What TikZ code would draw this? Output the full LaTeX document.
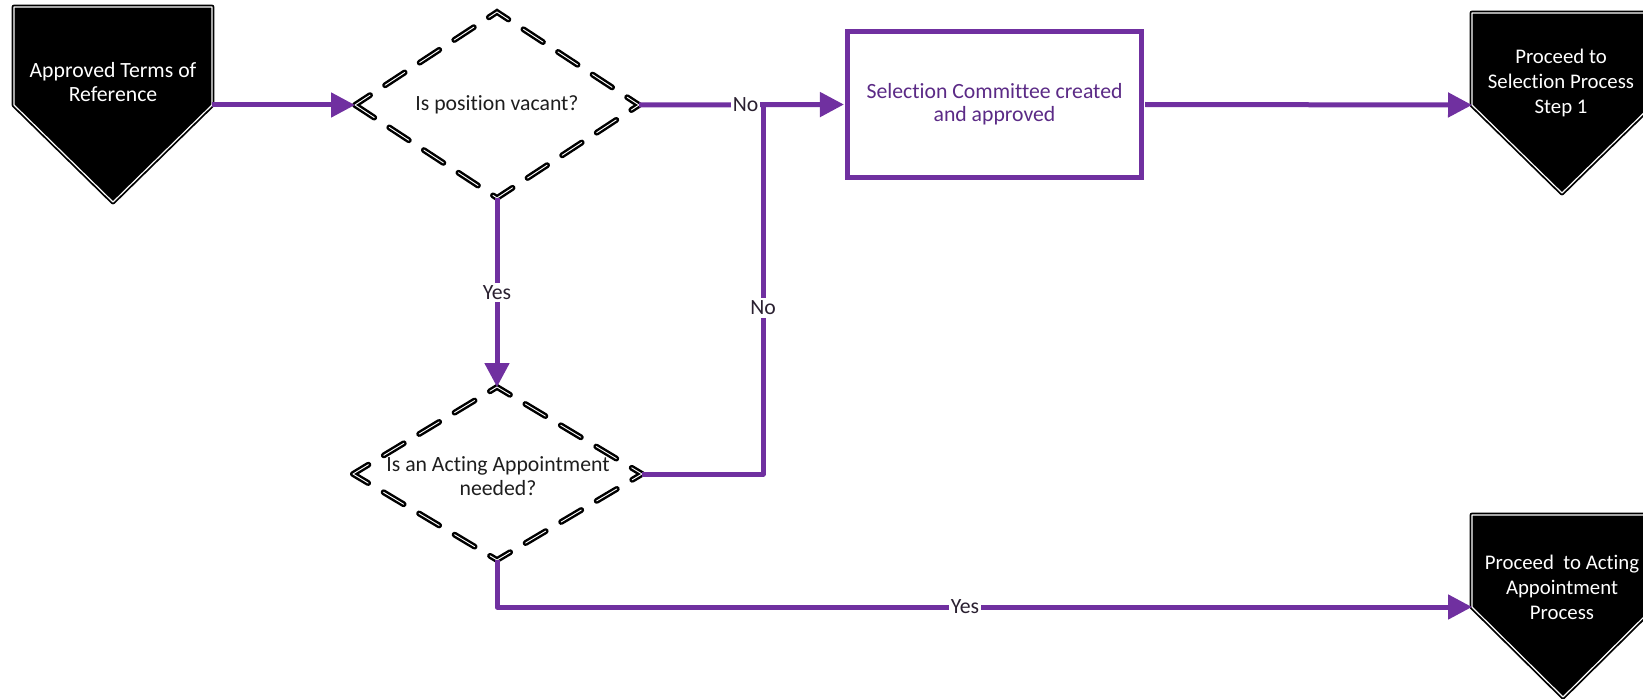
\documentclass[tikz,border=0pt]{standalone}
\usepackage{fontspec}
\setmainfont{Carlito}[Ligatures={NoCommon,NoDiscretionary,NoRare}]
\usetikzlibrary{arrows.meta}
\definecolor{flowpurple}{HTML}{7030A0}
\definecolor{boxtext}{HTML}{5B2A86}
\definecolor{labeltext}{HTML}{2A2030}
\definecolor{decisiontext}{HTML}{1E1E1E}

\begin{document}
\begin{tikzpicture}[x=0.75pt,y=-0.75pt,
  every node/.style={inner sep=0pt, align=center},
  bodyfont/.style={font=\fontsize{16.3pt}{17.5pt}\selectfont},
  widefont/.style={font=\fontsize{15.6pt}{18.75pt}\selectfont},
  terminal/.style={fill=black, draw=black, line width=3.6pt, line join=round},
  rim/.style={draw=white, line width=0.9pt, line join=round},
  decisionink/.style={draw=black, line width=4.4pt, line cap=round,
    dash pattern=on 17.5pt off 13.5pt, dash phase=4pt},
  decisionrim/.style={draw=white, line width=0.7pt, line cap=round,
    dash pattern=on 17.5pt off 13.5pt, dash phase=4pt},
  flow/.style={draw=flowpurple, line width=3.75pt, line join=round,
    -{Triangle[length=18pt,width=18pt]}},
  flowplain/.style={draw=flowpurple, line width=3.75pt, line join=round},
  lbl/.style={bodyfont, fill=white, text=labeltext, inner xsep=1pt, inner ysep=2pt},
  actionbox/.style={draw=flowpurple, line width=4.6pt, fill=white,
    minimum width=221.25pt, minimum height=110.25pt, text=boxtext, bodyfont},
]
\useasboundingbox (0,0) rectangle (1643,699);

% ---------- start terminal ----------
\coordinate (t1e) at (212,105);
\path[terminal] (14,7) -- (212,7) -- (t1e) -- (113,202) -- (14,105) -- cycle;
\path[rim] (14,7) -- (212,7) -- (t1e) -- (113,202) -- (14,105) -- cycle;
\node[bodyfont, text=white] (start) at (113,82) {Approved Terms of\\Reference};

% ---------- decision 1 ----------
\coordinate (d1w) at (355,105);
\coordinate (d1n) at (497,12);
\coordinate (d1e) at (639,105);
\coordinate (d1s) at (497,198);
\path[decisionink] (d1w) -- (d1n) -- (d1e) -- (d1s) -- cycle;
\path[decisionrim] (d1w) -- (d1n) -- (d1e) -- (d1s) -- cycle;
\node[bodyfont, text=decisiontext] (vacant) at (497,105) {Is position vacant?};

% ---------- decision 2 ----------
\coordinate (d2w) at (353,474);
\coordinate (d2n) at (497,387);
\coordinate (d2e) at (642,474);
\coordinate (d2s) at (497,560);
\path[decisionink] (d2w) -- (d2n) -- (d2e) -- (d2s) -- cycle;
\path[decisionrim] (d2w) -- (d2n) -- (d2e) -- (d2s) -- cycle;
\node[bodyfont, text=decisiontext] (acting) at (498,476) {Is an Acting Appointment\\needed?};

% ---------- action box (double purple rule) ----------
\node[actionbox] (committee) at (994.5,104.5) {Selection Committee created\\and approved};
\draw[white, line width=1.3pt] (committee.south west) rectangle (committee.north east);

% ---------- end terminals ----------
\coordinate (t2w) at (1472,105);
\path[terminal] (1472,13) -- (1652,13) -- (1652,105) -- (1562,193) -- (t2w) -- cycle;
\path[rim] (1472,13) -- (1652,13) -- (1652,105) -- (1562,193) -- (t2w) -- cycle;
\node[widefont, text=white] (selection) at (1561,83) {Proceed to\\Selection Process\\Step 1};

\coordinate (t3w) at (1472,607);
\path[terminal] (1472,515) -- (1654,515) -- (1654,607) -- (1563,697) -- (t3w) -- cycle;
\path[rim] (1472,515) -- (1654,515) -- (1654,607) -- (1563,697) -- (t3w) -- cycle;
\node[widefont, text=white] (actingproc) at (1562,587) {Proceed\ \ to Acting\\Appointment\\Process};

% ---------- connectors ----------
\coordinate (nojoin) at (763,105);
\coordinate (nobend) at (763,474);
\coordinate (yesbend) at (497,607);

\draw[flow] (t1e) -- (d1w);
\draw[flowplain] (d2e) -- (nobend) -- node[lbl, pos=0.45] {No} (nojoin);
\draw[flow] (d1e) -- node[lbl, pos=0.52] {No} (committee.west);
\draw[flow] (d1s) -- node[lbl] {Yes} (d2n);
\draw[flow] (d2s) -- (yesbend) -- node[lbl, pos=0.48] {Yes} (t3w);
\draw[flow] (committee.east) -- (t2w);
\end{tikzpicture}
\end{document}
